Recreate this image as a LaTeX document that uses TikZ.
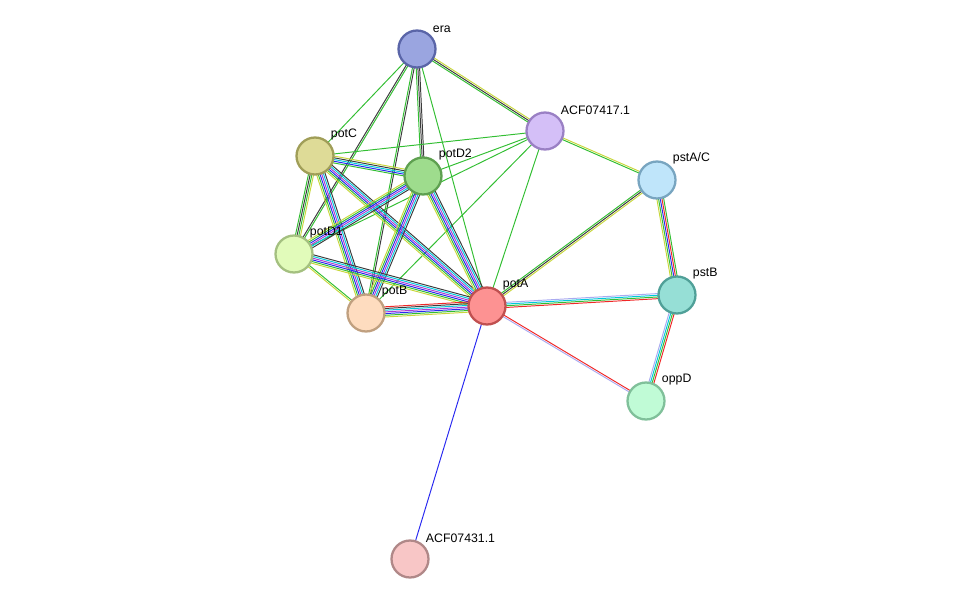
\documentclass[tikz,border=0pt]{standalone}
\usepackage{fontspec}
\setmainfont{Liberation Sans}
\usetikzlibrary{calc, backgrounds}
\definecolor{tm}{RGB}{200,215,60}
\definecolor{nb}{RGB}{50,190,50}
\definecolor{co}{RGB}{60,60,60}
\definecolor{db}{RGB}{0,200,220}
\definecolor{ex}{RGB}{170,60,210}
\definecolor{oc}{RGB}{40,40,240}
\definecolor{fu}{RGB}{240,40,40}
\definecolor{ho}{RGB}{170,170,240}
\tikzset{%
	prot/.style={draw, circle, minimum size=7.4mm, inner sep=0mm, line width=1.3pt},
	lbl/.style={font=\fontsize{7}{8}\selectfont, inner sep=1pt},
	link/.style={line width=0.55pt}
}
\newcommand{\edge}[4]{%
	\foreach \c [count=\i] in {#4} {
		\pgfmathsetmacro{\off}{(\i-(#3+1)/2)*0.034}
		\draw [link, \c] ($(#1)!\off cm!90:(#2)$) -- ($(#2)!\off cm!-90:(#1)$);
	}}
\begin{document}
\begin{tikzpicture}[x=0.02cm, y=-0.02cm]
		\useasboundingbox (0,0) rectangle (975,605);
		\node[prot, fill={rgb,255:red,154;green,165;blue,224}, draw={rgb,255:red,90;green,101;blue,168}, label={[lbl]45:era}] (era) at (417,49) {};
		\node[prot, fill={rgb,255:red,212;green,191;blue,247}, draw={rgb,255:red,154;green,128;blue,196}, label={[lbl]45:ACF07417.1}] (acf17) at (545,131) {};
		\node[prot, fill={rgb,255:red,191;green,229;blue,250}, draw={rgb,255:red,120;green,165;blue,192}, label={[lbl]45:pstA/C}] (pstac) at (657,180) {};
		\node[prot, fill={rgb,255:red,222;green,219;blue,151}, draw={rgb,255:red,160;green,158;blue,88}, label={[lbl]45:potC}] (potc) at (315,156) {};
		\node[prot, fill={rgb,255:red,158;green,220;blue,141}, draw={rgb,255:red,94;green,160;blue,80}, label={[lbl]45:potD2}] (potd2) at (423,176) {};
		\node[prot, fill={rgb,255:red,225;green,251;blue,186}, draw={rgb,255:red,164;green,192;blue,128}, label={[lbl]45:potD1}] (potd1) at (294,254) {};
		\node[prot, fill={rgb,255:red,254;green,220;blue,191}, draw={rgb,255:red,192;green,160;blue,128}, label={[lbl]45:potB}] (potb) at (366,313) {};
		\node[prot, fill={rgb,255:red,253;green,146;blue,146}, draw={rgb,255:red,192;green,80;blue,80}, label={[lbl]45:potA}] (pota) at (487,306) {};
		\node[prot, fill={rgb,255:red,150;green,223;blue,214}, draw={rgb,255:red,80;green,160;blue,152}, label={[lbl]45:pstB}] (pstb) at (677,295) {};
		\node[prot, fill={rgb,255:red,192;green,251;blue,214}, draw={rgb,255:red,128;green,192;blue,154}, label={[lbl]45:oppD}] (oppd) at (646,401) {};
		\node[prot, fill={rgb,255:red,248;green,198;blue,198}, draw={rgb,255:red,176;green,136;blue,136}, label={[lbl]45:ACF07431.1}] (acf31) at (410,559) {};

		\begin{scope}[on background layer]
			\edge{era}{acf17}{3}{nb, co, tm}
			\edge{era}{potc}{1}{nb}
			\edge{era}{potd2}{3}{nb, co, co}
			\edge{era}{potd1}{2}{co, nb}
			\edge{era}{potb}{2}{nb, co}
			\edge{era}{pota}{1}{nb}
			\edge{acf17}{potc}{1}{nb}
			\edge{acf17}{potd2}{1}{nb}
			\edge{acf17}{potd1}{1}{nb}
			\edge{acf17}{potb}{1}{nb}
			\edge{acf17}{pota}{1}{nb}
			\edge{acf17}{pstac}{2}{nb, tm}
			\edge{pstac}{pota}{3}{nb, co, tm}
			\edge{pstac}{pstb}{5}{tm, nb, oc, fu, nb}
			\edge{pstb}{pota}{4}{ho, db, nb, fu}
			\edge{pstb}{oppd}{4}{ho, db, nb, fu}
			\edge{pota}{oppd}{2}{ho, fu}
			\edge{pota}{acf31}{1}{oc}
			\edge{potc}{potd2}{5}{nb, oc, db, co, tm}
			\edge{potc}{potd1}{4}{nb, co, nb, tm}
			\edge{potc}{potb}{6}{tm, nb, oc, ex, db, co}
			\edge{potc}{pota}{6}{tm, nb, oc, ex, db, co}
			\edge{potd2}{potd1}{6}{tm, nb, oc, ex, db, co}
			\edge{potd2}{potb}{6}{tm, nb, oc, ex, db, co}
			\edge{potd2}{pota}{6}{tm, nb, oc, ex, db, co}
			\edge{potd1}{potb}{2}{tm, nb}
			\edge{potd1}{pota}{6}{tm, nb, oc, ex, db, co}
			\edge{potb}{pota}{7}{tm, nb, oc, ex, db, co, fu}
		\end{scope}
	\end{tikzpicture}
\end{document}
